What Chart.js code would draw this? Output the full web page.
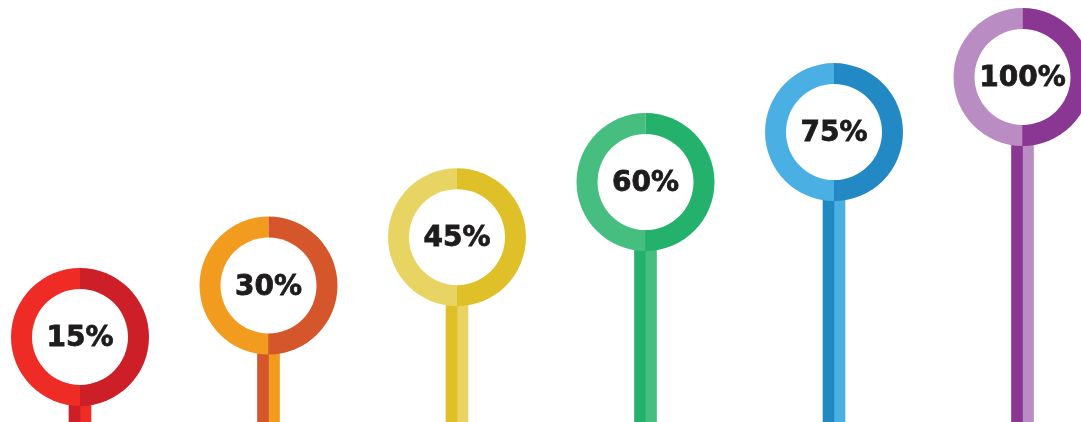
<!DOCTYPE html>
<html>
<head>
<meta charset="utf-8">
<script src="https://cdn.jsdelivr.net/npm/chart.js@4.4.1/dist/chart.umd.min.js"></script>
<style>
  html, body { margin: 0; padding: 0; background: #ffffff; }
  #wrap { width: 1081px; height: 422px; position: relative; }
</style>
</head>
<body>
<div id="wrap"><canvas id="grafico"></canvas></div>
<script>
// datos del gráfico
const etiquetas = ['15%', '30%', '45%', '60%', '75%', '100%'];
const valores = [15, 30, 45, 60, 75, 100];
// altura de cada escalón (nivel del centro del anillo)
const niveles = [1, 1.99, 2.92, 3.98, 4.94, 6];
// colores: mitad izquierda / mitad derecha del anillo
const coloresClaros = ['#ee2b25', '#f19b1f', '#e7d463', '#46be80', '#4aafe3', '#b98dc3'];
const coloresOscuros = ['#cc1f28', '#d4562a', '#e0c028', '#24b16c', '#2389c4', '#8a3794'];

const puntos = niveles.map((n, i) => ({ x: i, y: n }));

// plugin que dibuja los anillos y el texto sobre cada barra
const anillos = {
    id: 'anillos',
    afterDatasetsDraw(chart) {
        const ctx = chart.ctx;
        const xs = chart.scales.x;
        const ys = chart.scales.y;
        const rExt = 69, rInt = 48;
        ctx.save();
        niveles.forEach((n, i) => {
            const cx = xs.getPixelForValue(i);
            const cy = ys.getPixelForValue(n);
            // mitad izquierda
            ctx.beginPath();
            ctx.arc(cx, cy, rExt, Math.PI / 2, Math.PI * 1.5);
            ctx.closePath();
            ctx.fillStyle = coloresClaros[i];
            ctx.fill();
            // mitad derecha
            ctx.beginPath();
            ctx.arc(cx, cy, rExt, -Math.PI / 2, Math.PI / 2);
            ctx.closePath();
            ctx.fillStyle = coloresOscuros[i];
            ctx.fill();
            // centro blanco
            ctx.beginPath();
            ctx.arc(cx, cy, rInt, 0, Math.PI * 2);
            ctx.fillStyle = '#ffffff';
            ctx.fill();
            // texto (un poco más grueso con trazo)
            ctx.fillStyle = '#1e1c1d';
            ctx.strokeStyle = '#1e1c1d';
            ctx.lineWidth = 0.8;
            ctx.font = 'bold 28px "DejaVu Sans"';
            ctx.textAlign = 'center';
            ctx.textBaseline = 'middle';
            ctx.fillText(etiquetas[i], cx, cy + 2);
            ctx.strokeText(etiquetas[i], cx, cy + 2);
        });
        ctx.restore();
    }
};

new Chart(document.getElementById('grafico'), {
    type: 'bar',
    data: {
        datasets: [
            {
                label: 'Tallo izquierdo',
                data: puntos,
                backgroundColor: coloresOscuros,
                barThickness: 11,
                base: -2
            },
            {
                label: 'Tallo derecho',
                data: puntos,
                backgroundColor: coloresClaros,
                barThickness: 11,
                base: -2
            }
        ]
    },
    options: {
        responsive: true,
        maintainAspectRatio: false,
        animation: false,
        layout: { padding: 0 },
        plugins: {
            legend: { display: false },
            tooltip: { enabled: false }
        },
        scales: {
            x: { type: 'linear', offset: false, min: -0.4244, max: 5.3103, display: false },
            y: { min: -0.6346, max: 7.4808, display: false }
        }
    },
    plugins: [anillos]
});
</script>
</body>
</html>
